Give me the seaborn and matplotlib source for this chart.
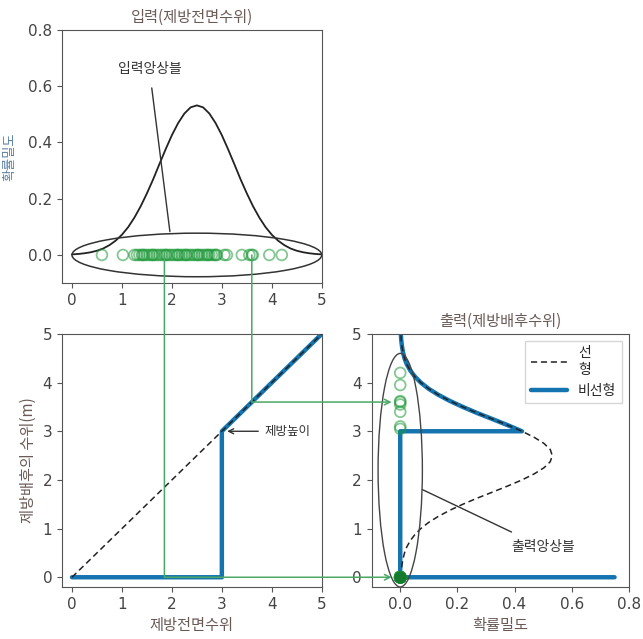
import matplotlib
matplotlib.use("Agg")
import matplotlib.pyplot as plt
import seaborn as sns
import pandas as pd
from matplotlib.patches import Ellipse, ConnectionPatch

# ---------------- data ----------------
level = [0.0, 0.125, 0.25, 0.375, 0.5, 0.625, 0.75, 0.875, 1.0, 1.125, 1.25, 1.375,
         1.5, 1.625, 1.75, 1.875, 2.0, 2.125, 2.25, 2.375, 2.5, 2.625, 2.75, 2.875,
         3.0, 3.125, 3.25, 3.375, 3.5, 3.625, 3.75, 3.875, 4.0, 4.125, 4.25, 4.375,
         4.5, 4.625, 4.75, 4.875, 5.0]
density = [0.002, 0.0035, 0.006, 0.0096, 0.015, 0.023, 0.035, 0.051, 0.072, 0.099,
           0.133, 0.173, 0.219, 0.269, 0.323, 0.376, 0.426, 0.469, 0.503, 0.525,
           0.532, 0.525, 0.503, 0.469, 0.426, 0.376, 0.323, 0.269, 0.219, 0.173,
           0.133, 0.099, 0.072, 0.051, 0.035, 0.023, 0.015, 0.0096, 0.006, 0.0035, 0.002]

# nonlinear output density (mass at 0 drawn as a bar, then tail above levee height)
nl_out_level = [0.0, 0.0, 3.0, 3.0, 3.125, 3.25, 3.375, 3.5, 3.625, 3.75, 3.875, 4.0,
                4.125, 4.25, 4.375, 4.5, 4.625, 4.75, 4.875, 5.0]
nl_out_density = [0.75, 0.0, 0.0, 0.426, 0.376, 0.323, 0.269, 0.219, 0.173, 0.133,
                  0.099, 0.072, 0.051, 0.035, 0.023, 0.015, 0.0096, 0.006, 0.0035, 0.002]

# transfer functions
lin_in = [0.0, 5.0]
lin_out = [0.0, 5.0]
nl_in = [0.0, 3.0, 3.0, 5.0]
nl_out = [0.0, 0.0, 3.0, 5.0]

# ensembles (values below levee height 3 map to 0)
ens_in_low = [0.6, 1.02, 1.25, 1.3, 1.35, 1.4, 1.45, 1.5, 1.55, 1.6, 1.65, 1.7, 1.75,
              1.8, 1.85, 1.9, 1.95, 2.0, 2.05, 2.1, 2.15, 2.2, 2.25, 2.3, 2.35, 2.4,
              2.45, 2.5, 2.55, 2.6, 2.65, 2.7, 2.75, 2.8, 2.85, 2.9, 1.42, 1.62,
              1.88, 2.12, 2.28, 2.52, 2.72, 2.88]
ens_in_high = [3.05, 3.1, 3.4, 3.55, 3.6, 3.62, 3.95, 4.2]
ens_out_low = [0.0, 0.0, 0.0, 0.0, 0.0, 0.0, 0.0, 0.0, 0.0, 0.0, 0.0, 0.0, 0.0, 0.0,
               0.0, 0.0, 0.0, 0.0, 0.0, 0.0, 0.0, 0.0, 0.0, 0.0, 0.0, 0.0, 0.0, 0.0,
               0.0, 0.0, 0.0, 0.0, 0.0, 0.0, 0.0, 0.0, 0.0, 0.0, 0.0, 0.0, 0.0, 0.0,
               0.0, 0.0]
ens_out_high = [3.05, 3.1, 3.4, 3.55, 3.6, 3.62, 3.95, 4.2]

levee_height = 3.0
trace_a = 1.85
trace_b = 3.6

# ---------------- style ----------------
sns.set_style("ticks")
plt.rcParams['font.family'] = ['Noto Sans CJK KR', 'DejaVu Sans']
plt.rcParams['axes.edgecolor'] = '#555555'
plt.rcParams['xtick.color'] = '#555555'
plt.rcParams['ytick.color'] = '#555555'
plt.rcParams['xtick.labelcolor'] = '#444444'
plt.rcParams['ytick.labelcolor'] = '#444444'

BLUE = '#1474b0'
GREEN = '#1f9a3a'
LINE_GREEN = '#4aa866'
TXT = '#6a5a56'

fig = plt.figure(figsize=(6.43, 6.39), dpi=100)
ax_top = fig.add_axes([0.0964, 0.557, 0.404, 0.396])
ax_bl = fig.add_axes([0.0964, 0.0814, 0.404, 0.396])
ax_r = fig.add_axes([0.578, 0.0814, 0.400, 0.396])


def tick_font(ax):
    ax.tick_params(labelsize=11)
    for lab in ax.get_xticklabels() + ax.get_yticklabels():
        lab.set_fontfamily('DejaVu Sans')


# ---- top: input density ----
df_pdf = pd.DataFrame({'x': level, 'y': density})
sns.lineplot(data=df_pdf, x='x', y='y', ax=ax_top, color='#222222', lw=1.3,
             estimator=None, sort=False)
ens_in = ens_in_low + ens_in_high
df_in = pd.DataFrame({'x': ens_in, 'y': [0.0] * len(ens_in)})
sns.scatterplot(data=df_in, x='x', y='y', ax=ax_top, s=60, facecolor='none',
                edgecolor=GREEN, linewidth=1.3, alpha=0.55, zorder=4)
ax_top.add_patch(Ellipse((2.5, 0.0), 5.0, 0.155, fill=False, ec='#333333', lw=1.1, zorder=5))
ax_top.annotate('입력앙상블', xy=(1.96, 0.083), xytext=(1.55, 0.66), ha='center', va='center',
                fontsize=10, color='#333333',
                arrowprops=dict(arrowstyle='-', color='#333333', lw=1.0, shrinkA=6, shrinkB=0))
ax_top.set_xlim(-0.2, 5.0)
ax_top.set_ylim(-0.1, 0.8)
ax_top.set_xticks([0, 1, 2, 3, 4, 5])
ax_top.set_yticks([0.0, 0.2, 0.4, 0.6, 0.8])
ax_top.set_xlabel('')
ax_top.set_ylabel('확률밀도', color='#5b80a8', fontsize=9.5, labelpad=8)
ax_top.set_title('입력(제방전면수위)', color=TXT, fontsize=11, pad=6)
tick_font(ax_top)

# ---- bottom-left: transfer function ----
df_nl = pd.DataFrame({'x': nl_in, 'y': nl_out})
sns.lineplot(data=df_nl, x='x', y='y', ax=ax_bl, color=BLUE, lw=3.2,
             estimator=None, sort=False, zorder=2)
df_lin = pd.DataFrame({'x': lin_in, 'y': lin_out})
sns.lineplot(data=df_lin, x='x', y='y', ax=ax_bl, color='#222222', lw=1.1,
             linestyle=(0, (4, 2.5)), estimator=None, sort=False, zorder=3)
ax_bl.annotate('제방높이', xy=(3.05, levee_height), xytext=(3.85, levee_height),
               ha='left', va='center', fontsize=9, color='#333333',
               arrowprops=dict(arrowstyle='->', color='#333333', lw=1.0))
ax_bl.set_xlim(-0.2, 5.0)
ax_bl.set_ylim(-0.2, 5.0)
ax_bl.set_xticks([0, 1, 2, 3, 4, 5])
ax_bl.set_yticks([0, 1, 2, 3, 4, 5])
ax_bl.set_xlabel('제방전면수위', color=TXT, fontsize=11)
ax_bl.set_ylabel('제방배후의 수위(m)', color=TXT, fontsize=11)
tick_font(ax_bl)

# ---- right: output density ----
df_nlo = pd.DataFrame({'x': nl_out_density, 'y': nl_out_level})
sns.lineplot(data=df_nlo, x='x', y='y', ax=ax_r, color=BLUE, lw=3.2,
             estimator=None, sort=False, zorder=2, label='비선형')
df_lo = pd.DataFrame({'x': density, 'y': level})
sns.lineplot(data=df_lo, x='x', y='y', ax=ax_r, color='#222222', lw=1.1,
             linestyle=(0, (4, 2.5)), estimator=None, sort=False, zorder=3, label='선\n형')
ens_out = ens_out_low + ens_out_high
df_out = pd.DataFrame({'x': [0.0] * len(ens_out), 'y': ens_out})
sns.scatterplot(data=df_out, x='x', y='y', ax=ax_r, s=60, facecolor='none',
                edgecolor=GREEN, linewidth=1.3, alpha=0.55, zorder=4)
ax_r.scatter([0.0], [0.0], s=60, color='#157a2e', zorder=4)
ax_r.add_patch(Ellipse((0.0, 2.2), 0.155, 4.8, fill=False, ec='#444444', lw=1.0, zorder=5))
ax_r.annotate('출력앙상블', xy=(0.078, 1.8), xytext=(0.5, 0.62), ha='center', va='center',
              fontsize=10, color='#333333',
              arrowprops=dict(arrowstyle='-', color='#333333', lw=1.0, shrinkA=8, shrinkB=0))
ax_r.set_xlim(-0.1, 0.8)
ax_r.set_ylim(-0.2, 5.0)
ax_r.set_xticks([0.0, 0.2, 0.4, 0.6, 0.8])
ax_r.set_yticks([0, 1, 2, 3, 4, 5])
ax_r.set_xlabel('확률밀도', color=TXT, fontsize=11)
ax_r.set_ylabel('')
ax_r.set_title('출력(제방배후수위)', color=TXT, fontsize=11, pad=6)
tick_font(ax_r)
handles, labels = ax_r.get_legend_handles_labels()
order = [labels.index('선\n형'), labels.index('비선형')]
ax_r.legend([handles[i] for i in order], [labels[i] for i in order],
            loc='upper right', fontsize=10, frameon=True, edgecolor='#cccccc',
            fancybox=False, handlelength=2.6)

# ---- green trace lines across panels ----
for xv, yv in [(trace_a, 0.0), (trace_b, trace_b)]:
    c1 = ConnectionPatch(xyA=(xv, 0.0), coordsA=ax_top.transData,
                         xyB=(xv, yv), coordsB=ax_bl.transData,
                         color=LINE_GREEN, lw=1.1, zorder=1)
    fig.add_artist(c1)
    c2 = ConnectionPatch(xyA=(xv, yv), coordsA=ax_bl.transData,
                         xyB=(-0.03, yv), coordsB=ax_r.transData,
                         color=LINE_GREEN, lw=1.1, arrowstyle='->', zorder=1)
    fig.add_artist(c2)

fig.savefig('out.png', dpi=100)
